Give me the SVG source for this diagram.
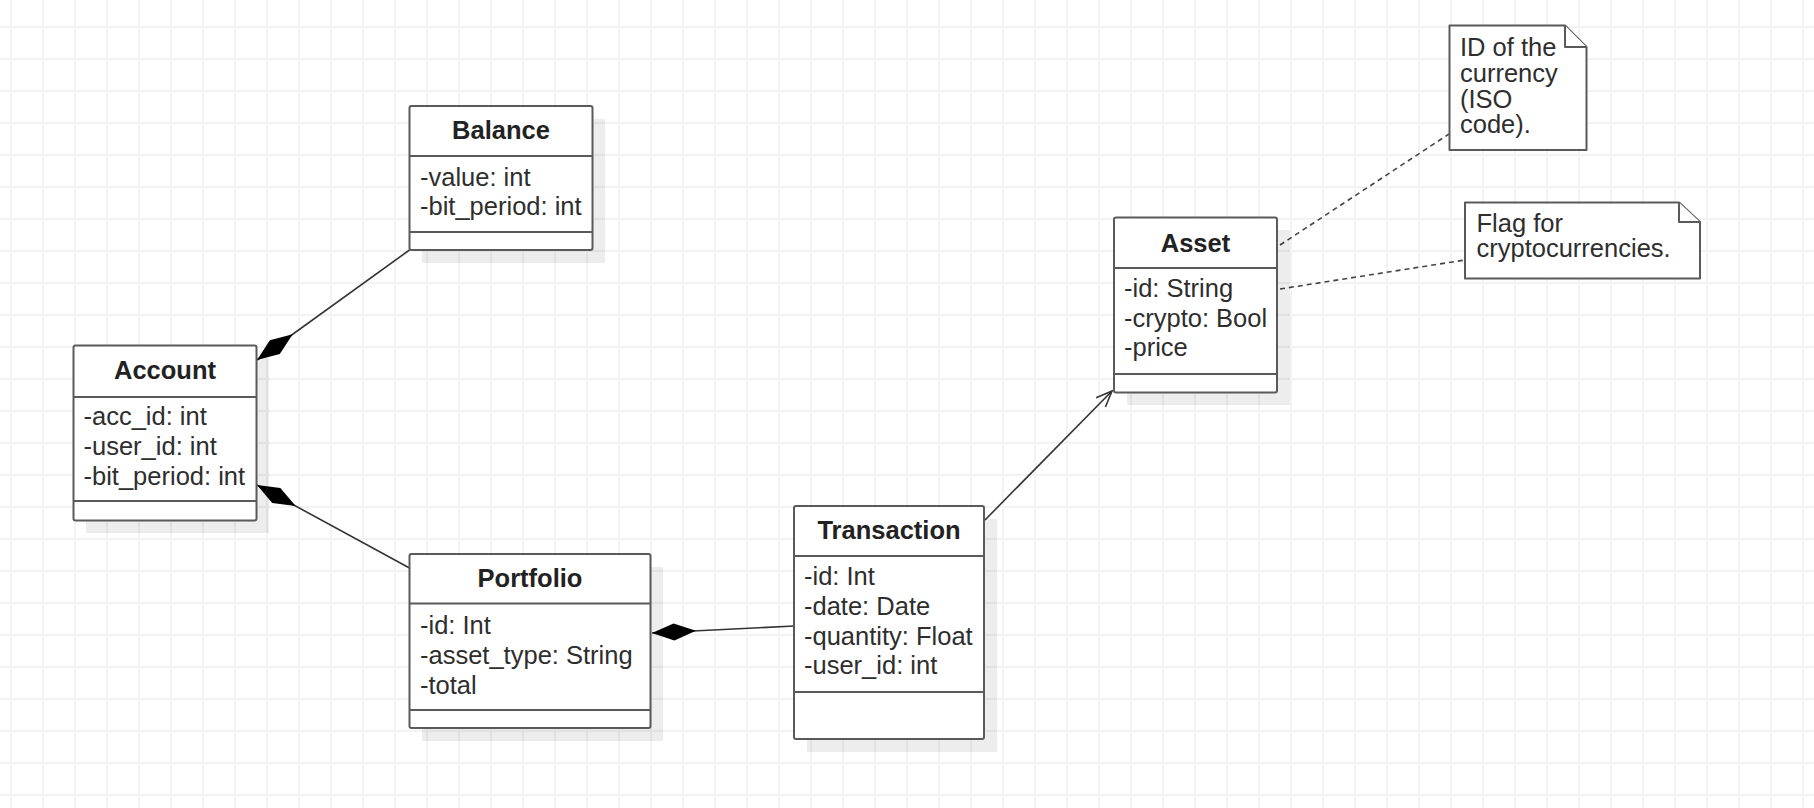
<svg xmlns="http://www.w3.org/2000/svg" width="1814" height="808" viewBox="0 0 1814 808">
<style>
.box{fill:#ffffff;stroke:#5a5a5a;stroke-width:2}
.sep{stroke:#5a5a5a;stroke-width:2;fill:none}
.shadow{fill:#000;fill-opacity:0.07}
.title{font-family:"Liberation Sans",Arial,sans-serif;font-size:25.5px;font-weight:bold;fill:#222;text-anchor:middle}
.attr{font-family:"Liberation Sans",Arial,sans-serif;font-size:25.5px;fill:#2e2e2e}
.note{fill:#ffffff;stroke:#5a5a5a;stroke-width:2;stroke-linejoin:round}
.conn{stroke:#333;stroke-width:1.6;fill:none}
.dash{stroke:#444;stroke-width:1.6;fill:none;stroke-dasharray:5 4}
</style>
<defs>
<pattern id="grid" x="10" y="26" width="32" height="32" patternUnits="userSpaceOnUse">
<rect x="0" y="0" width="2" height="32" fill="#f3f3f3"/>
<rect x="0" y="0" width="32" height="2" fill="#f3f3f3"/>
</pattern>
<marker id="diamond" markerUnits="userSpaceOnUse" markerWidth="46" markerHeight="18" refX="0" refY="8.5" orient="auto" overflow="visible">
<path d="M0,8.5 L22,0 L44,8.5 L22,17 Z" fill="#000"/>
</marker>
<marker id="open" markerUnits="userSpaceOnUse" markerWidth="20" markerHeight="16" refX="0" refY="0" orient="auto" overflow="visible">
<path d="M-16,-6.5 L0,0 L-16,6.5" fill="none" stroke="#333" stroke-width="1.6"/>
</marker>
</defs>
<rect x="0" y="0" width="1814" height="808" fill="#ffffff"/>
<rect x="0" y="0" width="1814" height="808" fill="url(#grid)"/>

<g id="connectors">
<path class="conn" d="M257,360 L409.5,250" marker-start="url(#diamond)"/>
<path class="conn" d="M257,485 L409.5,568" marker-start="url(#diamond)"/>
<path class="conn" d="M652,633 L794,626" marker-start="url(#diamond)"/>
<path class="conn" d="M985,520 L1112,391" marker-end="url(#open)"/>
<path class="dash" d="M1280,245 L1449,134"/>
<path class="dash" d="M1280,289 L1465,260"/>
</g>

<g id="Account">
<rect class="shadow" x="86" y="358" width="183" height="175"/>
<rect class="box" x="73.5" y="345.5" width="183" height="175" rx="2"/>
<path class="sep" d="M73.5,397 H256.5 M73.5,501 H256.5"/>
<text class="title" x="165" y="379">Account</text>
<text class="attr" x="83.5" y="425">-acc_id: int</text>
<text class="attr" x="83.5" y="455">-user_id: int</text>
<text class="attr" x="83.5" y="485">-bit_period: int</text>
</g>

<g id="Balance">
<rect class="shadow" x="422" y="119" width="183" height="144"/>
<rect class="box" x="409.5" y="106" width="183" height="144" rx="2"/>
<path class="sep" d="M409.5,156 H592.5 M409.5,232 H592.5"/>
<text class="title" x="501" y="139">Balance</text>
<text class="attr" x="420" y="186">-value: int</text>
<text class="attr" x="420" y="215">-bit_period: int</text>
</g>

<g id="Portfolio">
<rect class="shadow" x="422" y="567" width="241" height="174"/>
<rect class="box" x="409.5" y="554" width="241" height="174" rx="2"/>
<path class="sep" d="M409.5,603.5 H650.5 M409.5,710 H650.5"/>
<text class="title" x="530" y="587">Portfolio</text>
<text class="attr" x="420" y="634">-id: Int</text>
<text class="attr" x="420" y="664">-asset_type: String</text>
<text class="attr" x="420" y="694">-total</text>
</g>

<g id="Transaction">
<rect class="shadow" x="807" y="519" width="190" height="233"/>
<rect class="box" x="794" y="506" width="190" height="233" rx="2"/>
<path class="sep" d="M794,556 H984 M794,692 H984"/>
<text class="title" x="889" y="539">Transaction</text>
<text class="attr" x="804" y="585">-id: Int</text>
<text class="attr" x="804" y="615">-date: Date</text>
<text class="attr" x="804" y="645">-quantity: Float</text>
<text class="attr" x="804" y="674">-user_id: int</text>
</g>

<g id="Asset">
<rect class="shadow" x="1127" y="230" width="163" height="175"/>
<rect class="box" x="1114" y="217.5" width="163" height="175" rx="2"/>
<path class="sep" d="M1114,268 H1277 M1114,374 H1277"/>
<text class="title" x="1195.5" y="252">Asset</text>
<text class="attr" x="1124" y="297">-id: String</text>
<text class="attr" x="1124" y="327">-crypto: Bool</text>
<text class="attr" x="1124" y="356">-price</text>
</g>

<g id="NoteCurrency">
<path class="note" d="M1449.5,25.5 H1565 L1586.5,47 V150 H1449.5 Z"/>
<path class="note" d="M1565,25.5 V47 H1586.5"/>
<text class="attr" x="1460" y="55.5">ID of the</text>
<text class="attr" x="1460" y="81.5">currency</text>
<text class="attr" x="1460" y="107.5">(ISO</text>
<text class="attr" x="1460" y="133">code).</text>
</g>

<g id="NoteCrypto">
<path class="note" d="M1465,202.5 H1679 L1700,222 V278.5 H1465 Z"/>
<path class="note" d="M1679,202.5 V222 H1700"/>
<text class="attr" x="1476.5" y="231.5">Flag for</text>
<text class="attr" x="1476.5" y="257">cryptocurrencies.</text>
</g>
</svg>
